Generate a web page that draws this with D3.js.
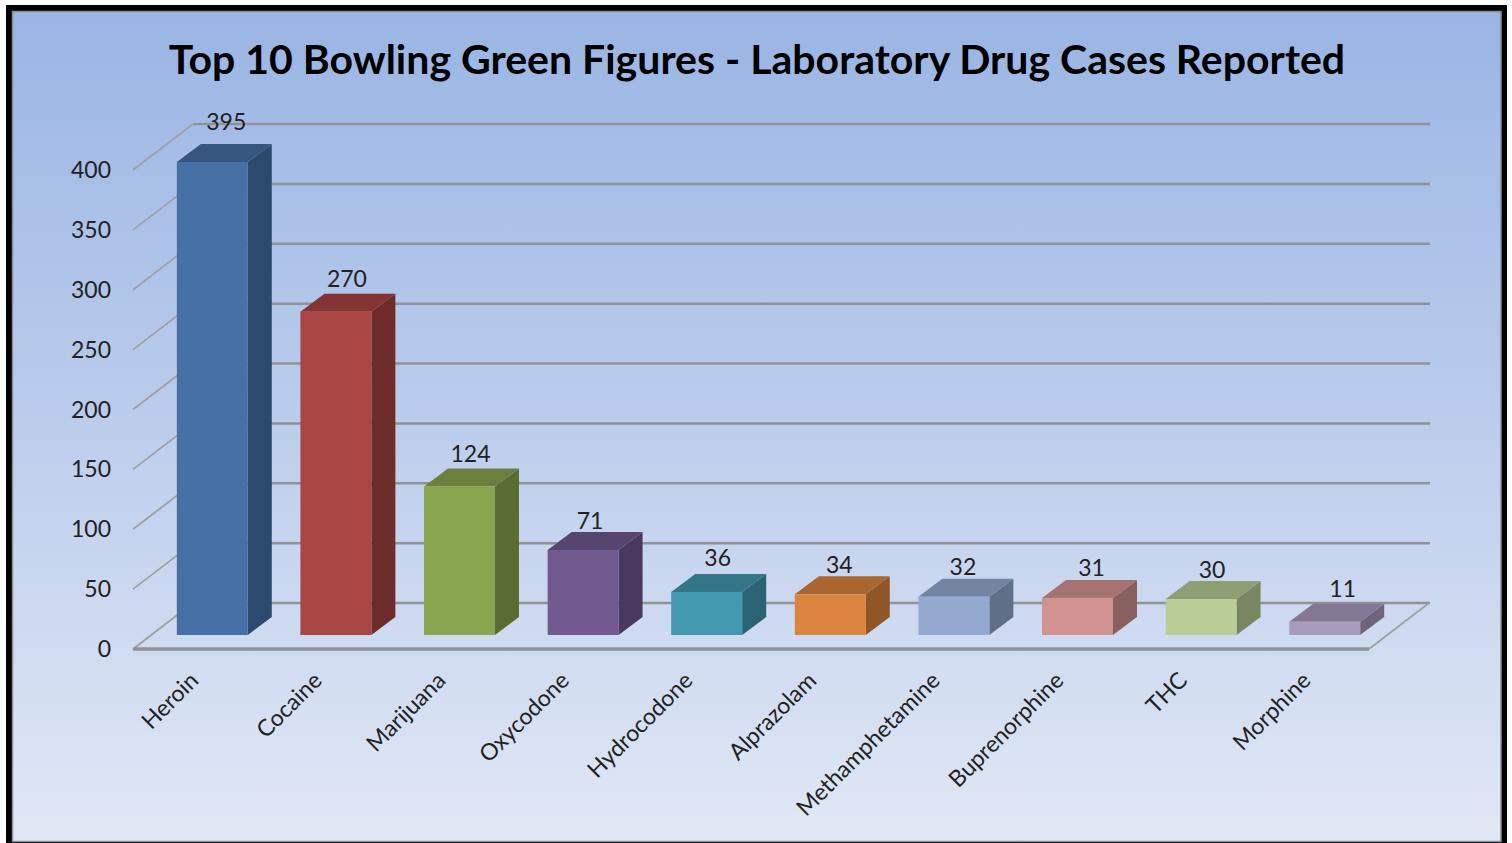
<!DOCTYPE html>
<html>
<head>
<meta charset="utf-8">
<title>Top 10 Bowling Green Figures</title>
<script src="https://cdn.jsdelivr.net/npm/d3@7"></script>
<style>
  html, body { margin: 0; padding: 0; background: #fff; overflow: hidden; }
  svg { display: block; }
  text { font-family: Lato, "Open Sans", sans-serif; }
</style>
</head>
<body>
<div id="vis"></div>
<script>
// chart values
const drugs = ["Heroin", "Cocaine", "Marijuana", "Oxycodone", "Hydrocodone", "Alprazolam", "Methamphetamine", "Buprenorphine", "THC", "Morphine"];
const cases = [395, 270, 124, 71, 36, 34, 32, 31, 30, 11];
const yTicks = [0, 50, 100, 150, 200, 250, 300, 350, 400];
const frontColors = ["#4571a6", "#a94542", "#89a54e", "#71588f", "#4198af", "#db843d", "#93a9cf", "#d19392", "#b9cd96", "#a99bbd"];
const sideColors = ["#2c4a6e", "#6e2c2a", "#596c32", "#4a395e", "#2a6373", "#8f5627", "#606f88", "#895f5f", "#798662", "#6e657c"];
const topColors = ["#36567f", "#843533", "#6a803c", "#57446f", "#327688", "#aa6630", "#72849f", "#a37271", "#8f9f74", "#837793"];

const width = 1512, height = 843;

const svg = d3.select("#vis").append("svg")
    .attr("width", width)
    .attr("height", height);

// background gradient
const grad = svg.append("defs").append("linearGradient")
    .attr("id", "bg")
    .attr("x1", 0).attr("y1", 0).attr("x2", 0).attr("y2", 1);
grad.append("stop").attr("offset", "0%").attr("stop-color", "#9ab5e4");
grad.append("stop").attr("offset", "50%").attr("stop-color", "#bccdec");
grad.append("stop").attr("offset", "100%").attr("stop-color", "#e1e8f5");

svg.append("rect")
    .attr("x", 6).attr("y", 5)
    .attr("width", 1501).attr("height", 838)
    .attr("fill", "#000");
svg.append("rect")
    .attr("x", 12.5).attr("y", 11.5)
    .attr("width", 1488.5).attr("height", 830)
    .attr("fill", "url(#bg)")
    .attr("stroke", "#8c8c8c")
    .attr("stroke-width", 1.5);

// title
svg.append("text")
    .attr("x", 757)
    .attr("y", 74)
    .attr("text-anchor", "middle")
    .attr("font-size", 41)
    .attr("font-weight", 700)
    .attr("fill", "#000")
    .text("Top 10 Bowling Green Figures - Laboratory Drug Cases Reported");

// scales for the front plane, the back wall is shifted by wall
const wall = {dx: 60, dy: -46};
const floorShift = {dx: 17.5, dy: -14}; // where the bars stand on the floor
const barDepth = {dx: 24, dy: -18};

const x = d3.scaleBand()
    .domain(drugs)
    .range([133, 1369])
    .paddingInner(0.426)
    .paddingOuter(0.213);

const y = d3.scaleLinear()
    .domain([0, 400])
    .range([649, 170]);

const grid = svg.append("g");
const gridColor = "#8f9296";

// wall lines
grid.selectAll(".wall")
    .data(yTicks)
  .enter().append("line")
    .attr("x1", x.range()[0] + wall.dx)
    .attr("x2", x.range()[1] + wall.dx + 1)
    .attr("y1", d => y(d) + wall.dy)
    .attr("y2", d => y(d) + wall.dy)
    .attr("stroke", gridColor)
    .attr("stroke-width", 2.5);

// depth lines at the left
grid.selectAll(".depth")
    .data(yTicks)
  .enter().append("line")
    .attr("x1", x.range()[0])
    .attr("x2", x.range()[0] + wall.dx)
    .attr("y1", y)
    .attr("y2", d => y(d) + wall.dy)
    .attr("stroke", "#9fa1a4")
    .attr("stroke-width", 1.8);

// floor edges
grid.append("line")
    .attr("x1", x.range()[1])
    .attr("x2", x.range()[1] + wall.dx)
    .attr("y1", y(0))
    .attr("y2", y(0) + wall.dy)
    .attr("stroke", "#9fa1a4")
    .attr("stroke-width", 1.8);
grid.append("line")
    .attr("x1", x.range()[0])
    .attr("x2", x.range()[1])
    .attr("y1", y(0))
    .attr("y2", y(0))
    .attr("stroke", gridColor)
    .attr("stroke-width", 3.5);

// y tick labels
svg.selectAll(".ytick")
    .data(yTicks)
  .enter().append("text")
    .attr("x", 111)
    .attr("y", d => y(d) + 8)
    .attr("text-anchor", "end")
    .attr("font-size", 23)
    .attr("fill", "#222")
    .text(d => d);

// 3d bars
const bars = svg.selectAll(".bar")
    .data(drugs.map((name, i) => ({name, value: cases[i], i})))
  .enter().append("g")
    .attr("class", "bar")
    .attr("transform", `translate(${floorShift.dx},${floorShift.dy})`);

bars.append("polygon")
    .attr("fill", d => sideColors[d.i])
    .attr("points", d => {
        const r = x(d.name) + x.bandwidth();
        return [[r, y(d.value)], [r + barDepth.dx, y(d.value) + barDepth.dy],
                [r + barDepth.dx, y(0) + barDepth.dy], [r, y(0)]].join(" ");
    });

bars.append("polygon")
    .attr("fill", d => topColors[d.i])
    .attr("points", d => {
        const l = x(d.name), r = l + x.bandwidth(), t = y(d.value);
        return [[l, t], [l + barDepth.dx, t + barDepth.dy],
                [r + barDepth.dx, t + barDepth.dy], [r, t]].join(" ");
    });

bars.append("rect")
    .attr("fill", d => frontColors[d.i])
    .attr("x", d => x(d.name))
    .attr("y", d => y(d.value))
    .attr("width", x.bandwidth())
    .attr("height", d => y(0) - y(d.value));

// value labels, a few of them sit off the usual spot
const labelNudge = {
    Heroin: [3, -7], Oxycodone: [-4, 4], Hydrocodone: [0, -1], Alprazolam: [-2, 4],
    Methamphetamine: [-2, 3], Buprenorphine: [3, 3], THC: [0, 4], Morphine: [7, 0]
};
bars.append("text")
    .attr("x", d => x(d.name) + x.bandwidth() / 2 + 11 + (labelNudge[d.name] || [0, 0])[0])
    .attr("y", d => y(d.value) + barDepth.dy - 7 + (labelNudge[d.name] || [0, 0])[1])
    .attr("text-anchor", "middle")
    .attr("font-size", 23)
    .attr("fill", "#222")
    .text(d => d.value);

// rotated category labels
svg.selectAll(".xlabel")
    .data(drugs)
  .enter().append("text")
    .attr("text-anchor", "end")
    .attr("font-size", 23)
    .attr("fill", "#222")
    .attr("transform", d => `translate(${x(d) + x.bandwidth() / 2 + 5},${y(0) + 33}) rotate(-45)`)
    .text(d => d);
</script>
</body>
</html>
